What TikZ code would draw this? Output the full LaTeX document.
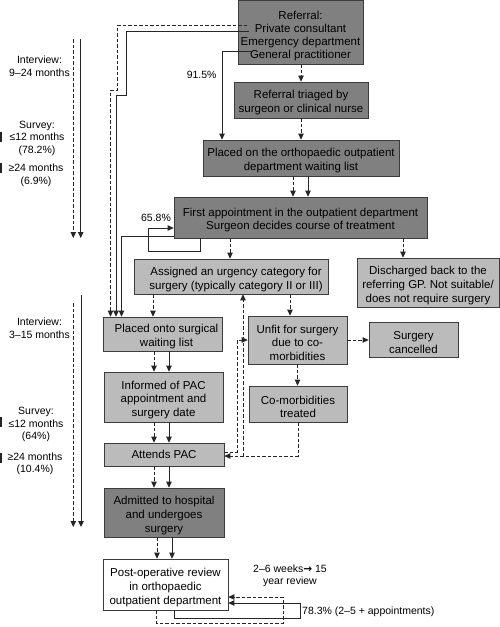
\documentclass[tikz,border=0pt]{standalone}
\usepackage{fontspec}
\setmainfont{Liberation Sans}
\newfontfamily\djv{DejaVu Sans}
\usetikzlibrary{arrows.meta}
\definecolor{dk}{HTML}{808080}
\definecolor{lt}{HTML}{BBBBBB}
\definecolor{ln}{HTML}{262626}
\newcommand{\tstrut}{\rule{0pt}{14pt}}
\begin{document}
\begin{tikzpicture}[x=1pt,y=-1pt,
  box/.style={draw=ln!90, line width=0.7pt, inner sep=0pt, align=center,
    font=\fontsize{11.5}{13.8}\selectfont},
  darkbox/.style={box, fill=dk},
  lightbox/.style={box, fill=lt},
  whitebox/.style={box, fill=white},
  sz/.style n args={2}{minimum width=#1pt, minimum height=#2pt},
  conn/.style={line width=0.9pt, draw=ln, -{Triangle[length=6pt,width=5.5pt]}},
  dconn/.style={conn, dash pattern=on 3.5pt off 2pt},
  lbl/.style={font=\fontsize{10.5}{12.5}\selectfont, align=center, inner sep=0pt}
]
\useasboundingbox (0,0) rectangle (500,627);

% boxes
\node[darkbox, sz={125}{63.5}, font=\fontsize{11.5}{12.9}\selectfont] (ref) at (300.5,32.25)
  {\rule{0pt}{16pt}Referral:\\Private consultant\\Emergency department\\General practitioner};
\node[darkbox, sz={134}{36}] (tri) at (301,100) {\tstrut Referral triaged by\\surgeon or clinical nurse};
\node[darkbox, sz={196}{36}] (wl) at (301,158) {\tstrut Placed on the orthopaedic outpatient\\department waiting list};
\node[darkbox, sz={253}{41}, font=\fontsize{11.5}{13.3}\selectfont] (first) at (300.5,217.5)
  {\tstrut First appointment in the outpatient department\\Surgeon decides course of treatment};
\node[lightbox, sz={194}{35}] (assign) at (231,276.5) {\tstrut\hspace*{10pt}Assigned an urgency category for\\\hspace*{10pt}surgery (typically category II or III)};
\node[lightbox, sz={142}{49}] (disch) at (428,282.5) {\tstrut Discharged back to the\\referring GP. Not suitable/\\does not require surgery};
\node[lightbox, sz={119}{34}] (surg) at (162.5,334) {\tstrut\hspace*{8pt}Placed onto surgical\\\hspace*{8pt}waiting list};
\node[lightbox, sz={99}{48}] (unfit) at (297.5,340) {\tstrut Unfit for surgery\\due to co-\\morbidities};
\node[lightbox, sz={89}{35}] (canc) at (413.5,339.5) {\tstrut Surgery\\cancelled};
\node[lightbox, sz={98}{36}] (comorb) at (298,404) {\tstrut Co-morbidities\\treated};
\node[lightbox, sz={119}{50}] (inform) at (163.5,397) {\tstrut Informed of PAC\\appointment and\\surgery date};
\node[lightbox, sz={120}{23}] (pac) at (164,454.5) {Attends PAC};
\node[darkbox, sz={120}{49}] (adm) at (164,512.5) {\tstrut Admitted to hospital\\and undergoes\\surgery};
\node[whitebox, sz={125}{51}] (post) at (165.5,584.5) {\tstrut Post-operative review\\in orthopaedic\\outpatient department};

% column x positions
\coordinate (xd) at (154,0);
\coordinate (xs) at (169,0);
\coordinate (xd2) at (157,0);
\coordinate (xs2) at (172,0);

% referral chain
\draw[dconn] (ref.south -| tri.north) -- (tri.north);
\draw[dconn] (tri.south) -- (wl.north -| tri.south);
\draw[dconn] ([xshift=-8pt]wl.south) -- ([xshift=-8pt]wl.south |- first.north);
\draw[conn] ([xshift=7pt]wl.south) -- ([xshift=7pt]wl.south |- first.north);

% 91.5%
\coordinate (gp) at (253,51.5);
\draw[conn] (gp) -| ([xshift=-79pt]wl.north);
\node[lbl] (p915) at (201.7,75) {91.5\%};

% referral to surgical list
\coordinate (ps) at (249,31);
\draw[conn] (ps) -- (126,31) -- (126,95) -- (116,95) -- ([xshift=-46.5pt]surg.north);
\coordinate (pc) at (247,25.5);
\draw[dconn] (pc) -- (117,25.5) -- (117,90) -- (110.5,90) -- ([xshift=-52pt]surg.north);

% first appointment to surgical list
\draw[conn] ([yshift=1.5pt]first.south west) -| ([xshift=-41pt]surg.north);

% 65.8% loop
\draw[conn] ([xshift=-100.5pt]first.south) -- (200,251) -- (148,251) -- (148,228) -- ([yshift=-10.5pt]first.west);
\node[lbl] (p658) at (156,217.7) {65.8\%};

% first appointment outcomes
\draw[dconn] ([xshift=-70.5pt]first.south) -- ([xshift=-70.5pt]first.south |- assign.north);
\draw[dconn] ([xshift=102.5pt]first.south) -- ([xshift=102.5pt]first.south |- disch.north);

% assigned outcomes
\draw[dconn] ([xshift=-78pt]assign.south) -- ([xshift=-78pt]assign.south |- surg.north);
\draw[dconn] ([xshift=59pt]assign.south) -- ([xshift=59pt]assign.south |- unfit.north);

% unfit
\draw[dconn] (unfit.east) -- (unfit.east -| canc.west);
\draw[dconn] (unfit.south) -- (unfit.south |- comorb.north);

% left column
\draw[dconn] (surg.south -| xd) -- (inform.north -| xd);
\draw[conn] (surg.south -| xs) -- (inform.north -| xs);
\draw[dconn] (inform.south -| xd) -- (pac.north -| xd);
\draw[conn] (inform.south -| xs) -- (pac.north -| xs);
\draw[dconn] (pac.south -| xd) -- (adm.north -| xd);
\draw[conn] (pac.south -| xs) -- (adm.north -| xs);
\draw[dconn] (adm.south -| xd2) -- (post.north -| xd2);
\draw[conn] (adm.south -| xs2) -- (post.north -| xs2);

% PAC <-> unfit / comorbidities
\draw[dconn] ([yshift=2.5pt]pac.east) -- (237,452) -- (237,340) -- (unfit.west);
\draw[dconn] (comorb.south) -- (298,456) -- ([yshift=-1.5pt]pac.east);
\coordinate (br) at (243,456);
\draw[dconn] (br) -- ([xshift=12pt]assign.south);

% post-op loops
\draw[dconn] ([xshift=-9.5pt]post.south) -- (156,623) -- (283,623) -- (283,597) -- ([yshift=-12.5pt]post.east);
\draw[conn] ([xshift=8.5pt]post.south) -- (174,618) -- (300,618) -- (300,603) -- ([yshift=-18.5pt]post.east);
\node[lbl] (wk) at (290,576) {2--6 weeks{\djv\bfseries →} 15\\year review};
\node[lbl, anchor=west] (p783) at (302,612) {78.3\% (2--5 + appointments)};

% timelines
\coordinate (t1ds) at (73.3,39);
\coordinate (t1de) at (73.3,238);
\coordinate (t1ss) at (80.7,39);
\coordinate (t1se) at (80.7,238);
\draw[dconn] (t1ds) -- (t1de);
\draw[conn] (t1ss) -- (t1se);
\coordinate (t2ds) at (73.3,303);
\coordinate (t2de) at (73.3,527);
\coordinate (t2ss) at (81,295);
\coordinate (t2se) at (81,527);
\draw[dconn] (t2ds) -- (t2de);
\draw[conn] (t2ss) -- (t2se);

% timeline labels
\node[lbl] (i1) at (39.5,66) {Interview:\\9--24 months};
\node[lbl] (s1) at (37,138) {Survey:\\≤12 months\\(78.2\%)};
\node[lbl] (g1) at (36,175.5) {≥24 months\\(6.9\%)};
\node[lbl] (i2) at (39.5,328) {Interview:\\3--15 months};
\node[lbl] (s2) at (36,424.5) {Survey:\\≤12 months\\(64\%)};
\node[lbl] (g2) at (35,464) {≥24 months\\(10.4\%)};

% edge marks
\fill[ln] (0,131.7) rectangle (1.7,141.7);
\fill[ln] (0,162.7) rectangle (1.7,173.3);
\fill[ln] (0,417.3) rectangle (1.7,427.3);
\fill[ln] (0,452.7) rectangle (1.7,462.7);
\end{tikzpicture}
\end{document}
